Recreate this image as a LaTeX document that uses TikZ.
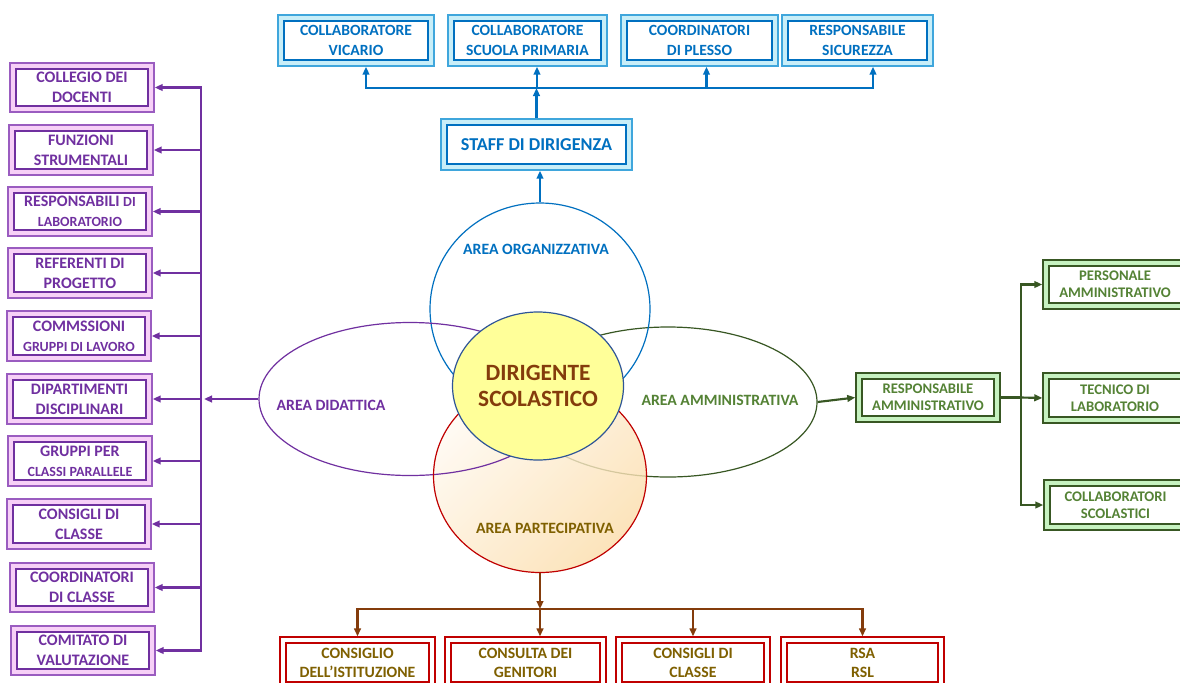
\documentclass[tikz,border=0pt]{standalone}
\usepackage{fontspec}
\setmainfont{Carlito}
\usetikzlibrary{arrows.meta,shapes.geometric,fit,calc}
\definecolor{bluetx}{HTML}{0070C0}
\definecolor{bluebd}{HTML}{3FA6DC}
\definecolor{bluefl}{HTML}{C8EEF8}
\definecolor{purtx}{HTML}{7030A0}
\definecolor{purbd}{HTML}{9A5CC0}
\definecolor{purfl}{HTML}{F7D0F7}
\definecolor{grntx}{HTML}{548235}
\definecolor{grnbd}{HTML}{385723}
\definecolor{grnfl}{HTML}{C6F2C0}
\definecolor{redbd}{HTML}{C00000}
\definecolor{goldtx}{HTML}{7F6000}
\definecolor{brnln}{HTML}{843C0C}
\definecolor{dirfl}{HTML}{FFFF99}
\definecolor{dirbd}{HTML}{2F5597}
\definecolor{parttop}{HTML}{FFFAF2}
\definecolor{partbot}{HTML}{FCDDAA}
\newcommand{\dbox}[7]{%
  \node[fit={(#2,#3)(#4,#5)}, inner sep=0pt, #6boxo] (#1) {};
  \node[fit={({#2+6},{#3+6})({#4-6},{#5-6})}, inner sep=0pt, #6boxi] {};
  \node[#6boxt] at (#1.center) {#7};
}
\newcommand{\smtx}[1]{{\fontsize{10.5}{12}\selectfont #1}}
\tikzset{
  tip/.style={-{Triangle[length=6pt,width=5pt]}},
  blueboxo/.style={draw=bluebd, fill=bluefl, line width=1.1pt},
  blueboxi/.style={draw=bluetx, fill=white, line width=0.8pt},
  blueboxt/.style={text=bluetx, align=center, font=\bfseries\fontsize{11.7}{15}\selectfont},
  purboxo/.style={draw=purbd, fill=purfl, line width=1.1pt},
  purboxi/.style={draw=purtx, fill=white, line width=0.8pt},
  purboxt/.style={text=purtx, align=center, font=\bfseries\fontsize{12}{15}\selectfont},
  grnboxo/.style={draw=grnbd, fill=grnfl, line width=1.1pt},
  grnboxi/.style={draw=grnbd, fill=white, line width=0.8pt},
  grnboxt/.style={text=grntx, align=center, font=\bfseries\fontsize{11}{13}\selectfont},
  redboxo/.style={draw=redbd, fill=white, line width=0.9pt},
  redboxi/.style={draw=redbd, fill=white, line width=0.8pt},
  redboxt/.style={text=goldtx, align=center, font=\bfseries\fontsize{11.8}{14.3}\selectfont},
  bluearr/.style={draw=bluetx, line width=1.6pt, tip},
  purarr/.style={draw=purtx, line width=1.6pt, tip},
  grnarr/.style={draw=grnbd, line width=1.6pt, tip},
  grnline/.style={draw=grnbd, line width=1.6pt},
  brnarr/.style={draw=brnln, line width=1.6pt, tip},
  area/.style={ellipse, inner sep=0pt, line width=0.9pt},
  arealbl/.style={font=\bfseries\fontsize{11.8}{13}\selectfont}
}
\begin{document}
\begin{tikzpicture}[x=0.75pt,y=-0.75pt]
\useasboundingbox (0,0) rectangle (1180,682);
\clip (0,0) rectangle (1180,682);
\fill[white] (0,0) rectangle (1180,682);

% central shapes
\node[area, draw=grnbd, minimum width=223.5pt, minimum height=112.5pt] (amm) at (668,402) {};
\node[area, minimum width=159.75pt, minimum height=144.75pt,
      top color=parttop, bottom color=partbot, shading angle=45, fill opacity=0.8] (part) at (540,476) {};
\node[area, draw=bluetx, minimum width=165pt, minimum height=159pt] (org) at (540,309) {};
\node[area, draw=purtx, minimum width=226.5pt, minimum height=114.75pt] (did) at (410,399) {};
\node[area, draw=redbd, minimum width=159.75pt, minimum height=144.75pt] at (part.center) {};
\node[area, draw=dirbd, fill=dirfl, minimum width=128.25pt, minimum height=111pt,
      text=brnln, align=center, font=\bfseries\fontsize{17.5}{20}\selectfont] (dir) at (538,386) {DIRIGENTE\\SCOLASTICO};

\node[arealbl, text=bluetx] (lorg) at (536,249) {AREA ORGANIZZATIVA};
\node[arealbl, text=purtx] (ldid) at (331,405) {AREA DIDATTICA};
\node[arealbl, text=grntx] (lamm) at (720,400) {AREA AMMINISTRATIVA};
\node[arealbl, text=goldtx] (lpart) at (545,528) {AREA PARTECIPATIVA};

% top
\dbox{t1}{278}{15}{434}{66}{blue}{COLLABORATORE\\VICARIO}
\dbox{t2}{448}{15}{607}{66}{blue}{COLLABORATORE\\SCUOLA PRIMARIA}
\dbox{t3}{621}{15}{778}{66}{blue}{COORDINATORI\\DI PLESSO}
\dbox{t4}{782}{15}{933}{66}{blue}{RESPONSABILE\\SICUREZZA}
\dbox{staff}{441}{119}{632}{170}{blue}{\fontsize{13.6}{15}\selectfont STAFF DI DIRIGENZA}

\coordinate (tb) at (537,88);
\coordinate (t1a) at ($(t1.south)+(10,0)$);
\coordinate (t3a) at ($(t3.south)+(7,0)$);
\coordinate (t4a) at ($(t4.south)+(15.5,0)$);
\draw[bluearr] (org.north) -- (org.north |- staff.south);
\draw[bluearr] (staff.north) -- (staff.north |- tb);
\draw[bluearr] (tb) -| (t1a);
\draw[bluearr] (tb) -| (t4a);
\draw[bluearr] (tb) -- (tb |- t2.south);
\draw[bluearr] (t3a |- tb) -- (t3a);

% left
\dbox{l1}{10}{63}{154}{112}{pur}{COLLEGIO DEI\\DOCENTI}
\dbox{l2}{9}{125}{153}{175}{pur}{FUNZIONI\\STRUMENTALI}
\dbox{l3}{8}{187}{152}{236}{pur}{RESPONSABILI \smtx{DI}\\\smtx{LABORATORIO}}
\dbox{l4}{8}{248}{152}{298}{pur}{REFERENTI DI\\PROGETTO}
\dbox{l5}{7}{311}{151}{361}{pur}{COMMSSIONI\\\smtx{GRUPPI DI LAVORO}}
\dbox{l6}{7}{374}{152}{424}{pur}{DIPARTIMENTI\\DISCIPLINARI}
\dbox{l7}{8}{436}{152}{486}{pur}{GRUPPI PER\\\smtx{CLASSI PARALLELE}}
\dbox{l8}{7}{499}{151}{549}{pur}{CONSIGLI DI\\CLASSE}
\dbox{l9}{10}{563}{154}{612}{pur}{COORDINATORI\\DI CLASSE}
\dbox{l10}{11}{626}{155}{675}{pur}{COMITATO DI\\VALUTAZIONE}

\coordinate (lb) at (201,399);
\draw[purarr] (did.west) -- ($(lb)+(3,0)$);
\draw[purarr] (lb) |- (l1.east);
\draw[purarr] (lb) |- (l10.east);
\foreach \i in {2,...,9}{\draw[purarr] (lb |- l\i.east) -- (l\i.east);}

% right
\dbox{ra}{856}{373}{1000}{422}{grn}{RESPONSABILE\\AMMINISTRATIVO}
\dbox{r1}{1043}{260}{1187}{309}{grn}{PERSONALE\\AMMINISTRATIVO}
\dbox{r2}{1043}{373}{1187}{423}{grn}{TECNICO DI\\LABORATORIO}
\dbox{r3}{1044}{480}{1187}{530}{grn}{COLLABORATORI\\SCOLASTICI}
\coordinate (rb) at (1021,397.5);
\draw[grnarr] (amm.east) -- (ra.west);
\draw[grnline] (ra.east) -- (rb);
\draw[grnarr] (rb) |- (r1.west);
\draw[grnarr] (rb) |- (r3.west);
\draw[grnarr] (rb) -- (r2.west);

% bottom
\dbox{b1}{280}{637}{435}{688}{red}{CONSIGLIO\\DELL’ISTITUZIONE}
\dbox{b2}{445}{637}{606}{688}{red}{CONSULTA DEI\\GENITORI}
\dbox{b3}{616}{637}{770}{688}{red}{CONSIGLI DI\\CLASSE}
\dbox{b4}{781}{637}{944}{688}{red}{RSA\\RSL}
\coordinate (bb) at (540,609);
\draw[brnarr] (part.south) -- (bb);
\draw[brnarr] (bb) -| (b1.north);
\draw[brnarr] (bb) -| (b4.north);
\draw[brnarr] (bb) -- (bb |- b2.north);
\draw[brnarr] (b3.north |- bb) -- (b3.north);
\end{tikzpicture}
\end{document}
